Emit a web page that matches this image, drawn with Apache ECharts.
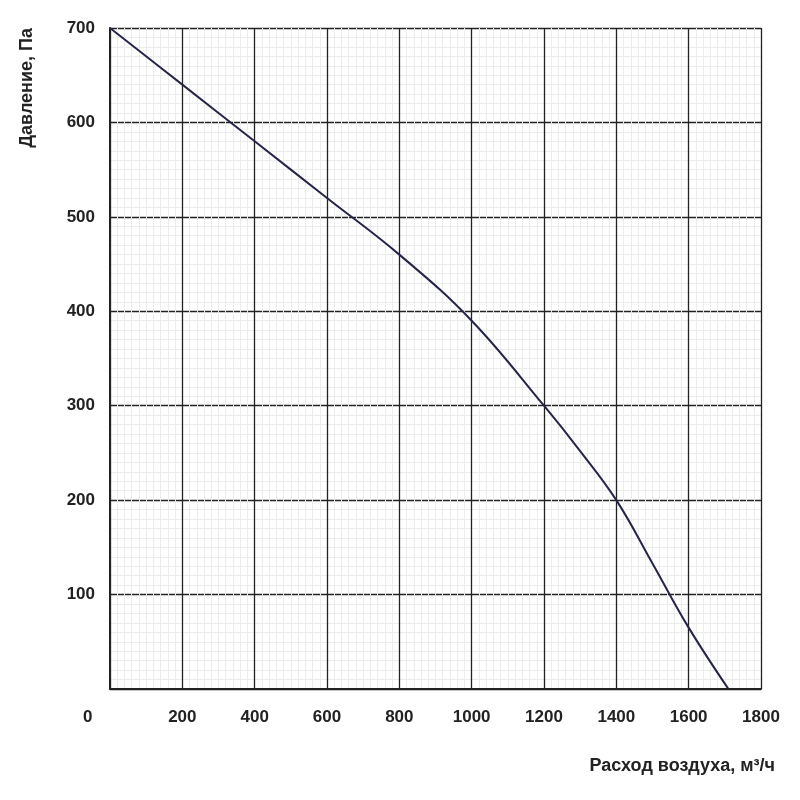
<!DOCTYPE html>
<html><head><meta charset="utf-8">
<script src="https://cdn.jsdelivr.net/npm/echarts@6/dist/echarts.min.js"></script>
<style>html,body{margin:0;background:#fff}#c{width:800px;height:800px}</style>
</head><body><div id="c"></div>
<script>
var flow = [0, 200, 400, 600, 800, 1000, 1200, 1300, 1400, 1500, 1600, 1710];
var pressure = [700, 640, 580, 520, 460, 390, 300, 252, 200, 133, 65, 0];
var pts = flow.map(function (x, i) { return [x, pressure[i]]; });

var chart = echarts.init(document.getElementById('c'));
var lbl = {color: '#222', fontSize: 17, fontWeight: 'bold', fontFamily: 'Liberation Sans'};
chart.setOption({
    animation: false,
    grid: {left: 110, right: 39, top: 28, bottom: 111},
    xAxis: {
        type: 'value', min: 0, max: 1800, interval: 200,
        name: 'Расход воздуха, м³/ч', nameLocation: 'end', nameGap: 0,
        nameTextStyle: {color: '#222', fontSize: 18, fontWeight: 'bold', fontFamily: 'Liberation Sans',
            align: 'right', verticalAlign: 'top', padding: [68, -14, 0, 0]},
        axisLine: {lineStyle: {color: '#222', width: 2}},
        axisTick: {show: false},
        axisLabel: Object.assign({margin: 20, formatter: function (v) { return v === 0 ? '' : v; }}, lbl),
        splitLine: {lineStyle: {color: '#222', width: 1.3, type: 'solid'}},
        minorTick: {show: false, splitNumber: 10},
        minorSplitLine: {show: true, lineStyle: {color: '#ececec', width: 1}}
    },
    yAxis: {
        type: 'value', min: 0, max: 700, interval: 100,
        name: 'Давление, Па', nameLocation: 'end', nameRotate: 90, nameGap: 0,
        nameTextStyle: {color: '#222', fontSize: 18, fontWeight: 'bold', fontFamily: 'Liberation Sans',
            align: 'right', verticalAlign: 'bottom', padding: [0, 0, 74, 0]},
        axisLine: {show: true, lineStyle: {color: '#222', width: 2}},
        axisTick: {show: false},
        axisLabel: Object.assign({margin: 15, formatter: function (v) { return v === 0 ? '' : v; }}, lbl),
        splitLine: {lineStyle: {color: '#222', width: 1.3, type: 'solid'}},
        minorTick: {show: false, splitNumber: 10},
        minorSplitLine: {show: true, lineStyle: {color: '#ececec', width: 1}}
    },
    graphic: [{type: 'text', left: 83, top: 709, style: {text: '0', fill: '#222', font: 'bold 17px Liberation Sans'}}],
    series: [{
        type: 'line', data: pts, smooth: 0.4, symbol: 'none', z: 5,
        lineStyle: {color: '#25254a', width: 2}
    }]
});
</script></body></html>
